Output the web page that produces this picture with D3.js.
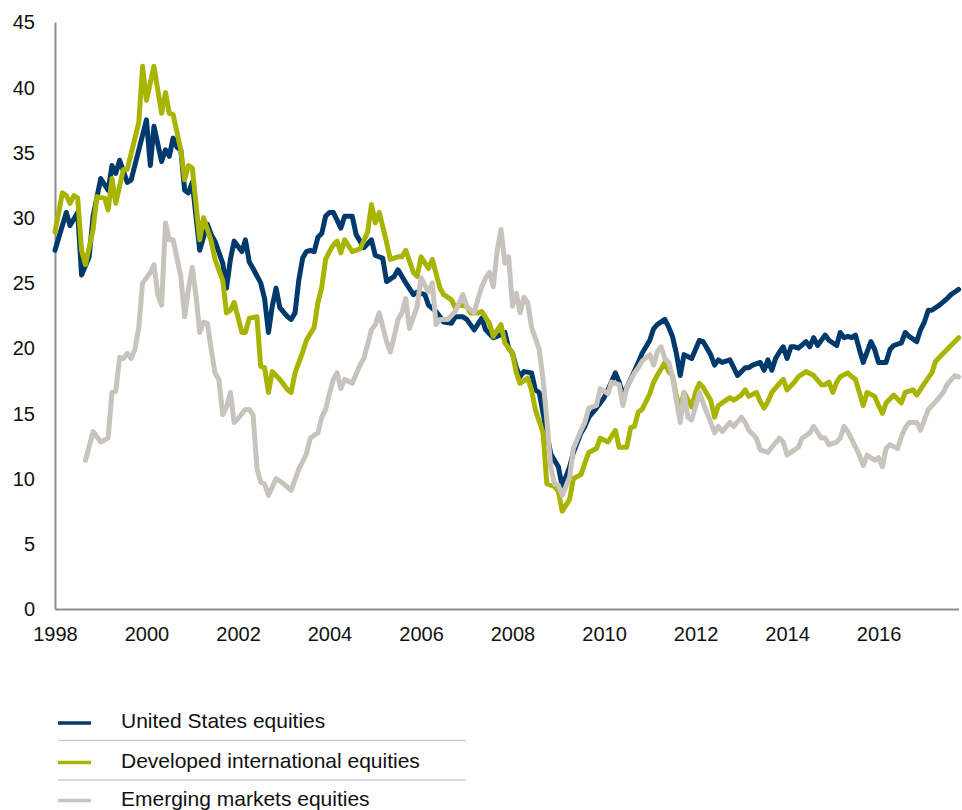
<!DOCTYPE html>
<html lang="en">
<head>
  <meta charset="UTF-8">
  <title>Equity valuations</title>
  <script src="https://d3js.org/d3.v7.min.js"></script>
  <style>
    body {
      margin: 0;
      background: #fff;
      font-family: Arial, "Liberation Sans", sans-serif;
    }

    .axis text {
      font-size: 20px;
      fill: #111;
      font-family: Arial, "Liberation Sans", sans-serif;
    }

    .axis .domain {
      stroke: #8c8c8c;
      stroke-width: 2;
    }

    .series {
      fill: none;
      stroke-width: 5;
      stroke-linejoin: round;
      stroke-linecap: round;
    }

    .legend text {
      font-size: 21px;
      fill: #111;
    }
  </style>
</head>
<body>
  <div id="chart"></div>

  <script>
    // tick labels
    const yTicks = [0, 5, 10, 15, 20, 25, 30, 35, 40, 45];
    const xTickYears = [1998, 2000, 2002, 2004, 2006, 2008, 2010, 2012, 2014, 2016];

    const seriesNames = ["United States equities", "Developed international equities", "Emerging markets equities"];

    // United States equities
    const usDates = [
      "1998-01","1998-04","1998-05","1998-07","1998-08","1998-10","1998-11","1999-01","1999-03","1999-04",
      "1999-05","1999-06","1999-08","1999-09","1999-11","2000-01","2000-02","2000-03","2000-05","2000-06",
      "2000-07","2000-08","2000-09","2000-10","2000-11","2000-12","2001-01","2001-03","2001-05","2001-06",
      "2001-07","2001-09","2001-10","2001-11","2001-12","2002-02","2002-03","2002-04","2002-05","2002-07",
      "2002-08","2002-09","2002-10","2002-11","2002-12","2003-02","2003-03","2003-04","2003-05","2003-06",
      "2003-07","2003-08","2003-09","2003-10","2003-11","2003-12","2004-01","2004-02","2004-04","2004-05",
      "2004-07","2004-08","2004-09","2004-10","2004-12","2005-01","2005-03","2005-04","2005-06","2005-07",
      "2005-09","2005-11","2005-12","2006-02","2006-03","2006-05","2006-07","2006-09","2006-10","2006-12",
      "2007-01","2007-03","2007-05","2007-06","2007-08","2007-09","2007-11","2007-12","2008-01","2008-02",
      "2008-03","2008-04","2008-06","2008-07","2008-08","2008-09","2008-11","2008-12","2009-01","2009-02",
      "2009-04","2009-05","2009-07","2009-08","2009-09","2009-11","2010-01","2010-02","2010-04","2010-05",
      "2010-06","2010-08","2010-10","2010-11","2011-01","2011-02","2011-03","2011-05","2011-06","2011-07",
      "2011-08","2011-09","2011-10","2011-12","2012-01","2012-02","2012-03","2012-05","2012-06","2012-07",
      "2012-08","2012-10","2012-11","2012-12","2013-02","2013-03","2013-04","2013-06","2013-07","2013-08",
      "2013-09","2013-10","2013-11","2013-12","2014-01","2014-02","2014-03","2014-04","2014-06","2014-07",
      "2014-08","2014-09","2014-11","2014-12","2015-02","2015-03","2015-04","2015-05","2015-06","2015-07",
      "2015-08","2015-09","2015-11","2015-12","2016-01","2016-03","2016-04","2016-05","2016-07","2016-08",
      "2016-09","2016-11","2016-12","2017-01","2017-02","2017-03","2017-05","2017-07","2017-08","2017-09",
      "2017-10"
    ];
    const usValues = [
      27.5, 30.4, 29.4, 30.4, 25.6, 27.0, 30.1, 33.0, 32.1, 34.0,
      33.4, 34.4, 32.7, 32.9, 35.2, 37.5, 34.0, 37.0, 34.3, 35.2,
      34.7, 36.1, 35.4, 35.2, 32.1, 31.9, 32.7, 27.5, 29.5, 28.7,
      28.2, 26.5, 24.6, 26.8, 28.2, 27.4, 28.3, 26.6, 26.1, 25.0,
      23.8, 21.2, 23.2, 24.6, 23.1, 22.4, 22.2, 22.7, 25.2, 26.9,
      27.4, 27.5, 27.4, 28.5, 28.8, 30.1, 30.4, 30.4, 29.2, 30.1,
      30.1, 28.7, 28.2, 27.7, 28.3, 27.1, 26.9, 25.1, 25.5, 26.0,
      25.0, 24.1, 24.3, 24.1, 23.3, 22.8, 22.0, 21.9, 22.4, 22.4,
      22.2, 21.4, 22.3, 21.4, 20.8, 20.9, 21.2, 20.0, 19.6, 18.5,
      17.8, 18.2, 18.1, 16.8, 16.6, 15.0, 11.9, 11.4, 10.9, 9.4,
      10.9, 12.0, 13.5, 14.0, 14.7, 15.4, 16.2, 16.8, 18.1, 17.4,
      16.4, 17.6, 18.9, 19.6, 20.6, 21.5, 21.8, 22.2, 21.6, 20.9,
      19.6, 17.9, 19.5, 19.2, 19.9, 20.6, 20.5, 19.5, 18.7, 19.1,
      18.9, 19.1, 18.5, 17.9, 18.5, 18.5, 18.7, 18.9, 18.3, 19.1,
      18.3, 19.2, 19.7, 20.1, 19.2, 20.1, 20.1, 20.0, 20.5, 20.1,
      20.8, 20.2, 21.0, 20.6, 20.2, 21.2, 20.8, 20.9, 20.8, 21.0,
      19.9, 18.9, 20.5, 19.9, 18.9, 18.9, 19.9, 20.2, 20.4, 21.2,
      20.9, 20.5, 21.4, 22.0, 22.9, 22.9, 23.3, 23.8, 24.1, 24.3,
      24.5
    ];

    // Developed international equities
    const devDates = [
      "1998-01","1998-03","1998-04","1998-05","1998-06","1998-07","1998-08","1998-09","1998-11","1998-12",
      "1999-02","1999-03","1999-04","1999-05","1999-07","1999-08","1999-11","1999-12","2000-01","2000-03",
      "2000-05","2000-06","2000-07","2000-08","2000-10","2000-11","2000-12","2001-01","2001-03","2001-04",
      "2001-06","2001-07","2001-09","2001-10","2001-11","2001-12","2002-02","2002-03","2002-04","2002-06",
      "2002-07","2002-08","2002-09","2002-10","2002-12","2003-02","2003-03","2003-04","2003-06","2003-07",
      "2003-09","2003-10","2003-11","2003-12","2004-01","2004-02","2004-03","2004-04","2004-05","2004-07",
      "2004-09","2004-11","2004-12","2005-01","2005-02","2005-04","2005-05","2005-07","2005-08","2005-09",
      "2005-11","2005-12","2006-01","2006-03","2006-04","2006-06","2006-07","2006-09","2006-10","2006-11",
      "2007-01","2007-02","2007-04","2007-05","2007-07","2007-08","2007-10","2007-11","2008-01","2008-02",
      "2008-03","2008-05","2008-06","2008-07","2008-09","2008-10","2008-12","2009-01","2009-02","2009-04",
      "2009-05","2009-07","2009-08","2009-09","2009-11","2009-12","2010-02","2010-04","2010-05","2010-07",
      "2010-08","2010-09","2010-10","2010-11","2011-01","2011-02","2011-03","2011-05","2011-06","2011-07",
      "2011-08","2011-09","2011-10","2011-12","2012-01","2012-02","2012-03","2012-05","2012-06","2012-07",
      "2012-08","2012-10","2012-11","2013-01","2013-02","2013-03","2013-05","2013-06","2013-07","2013-08",
      "2013-09","2013-11","2013-12","2014-01","2014-03","2014-04","2014-06","2014-08","2014-10","2014-11",
      "2014-12","2015-01","2015-02","2015-03","2015-05","2015-06","2015-07","2015-08","2015-09","2015-10",
      "2015-12","2016-01","2016-02","2016-03","2016-05","2016-07","2016-08","2016-10","2016-11","2017-01",
      "2017-03","2017-04","2017-06","2017-07","2017-08","2017-10"
    ];
    const devValues = [
      28.9, 31.9, 31.7, 31.1, 31.7, 31.5, 27.5, 26.4, 29.1, 31.6,
      31.5, 30.6, 33.0, 31.1, 33.7, 33.7, 37.3, 41.6, 39.0, 41.6,
      38.0, 39.6, 38.0, 37.9, 35.2, 32.9, 34.0, 33.8, 28.3, 30.0,
      28.2, 26.8, 25.2, 22.7, 22.9, 23.5, 21.2, 21.2, 22.3, 22.4,
      18.6, 18.5, 16.6, 18.2, 17.6, 16.8, 16.6, 18.1, 19.7, 20.6,
      21.6, 23.5, 24.7, 26.8, 27.4, 27.9, 28.2, 27.3, 28.3, 27.4,
      27.6, 28.9, 31.0, 29.6, 30.4, 28.1, 26.8, 27.0, 27.0, 27.5,
      25.8, 25.5, 27.0, 26.1, 26.8, 24.6, 24.1, 23.7, 23.1, 23.3,
      23.2, 22.7, 22.7, 22.8, 21.9, 20.9, 21.8, 20.4, 19.6, 18.1,
      17.3, 17.7, 16.8, 15.3, 13.5, 9.6, 9.4, 9.0, 7.5, 8.4,
      10.0, 10.3, 11.2, 12.0, 12.3, 13.1, 12.8, 13.7, 12.4, 12.4,
      13.9, 14.0, 15.1, 15.3, 16.5, 17.4, 17.9, 18.9, 18.2, 17.9,
      16.3, 15.4, 16.6, 15.5, 16.6, 17.3, 17.0, 16.0, 14.7, 15.6,
      15.8, 16.2, 16.0, 16.4, 16.8, 16.3, 16.6, 15.9, 15.4, 15.9,
      16.6, 17.3, 17.6, 16.8, 17.4, 17.8, 18.2, 17.9, 17.2, 17.2,
      17.4, 16.6, 17.4, 17.8, 18.1, 17.8, 17.6, 16.6, 15.6, 16.6,
      16.3, 15.6, 15.0, 15.8, 16.4, 15.8, 16.6, 16.8, 16.4, 17.3,
      18.1, 19.0, 19.6, 19.9, 20.2, 20.8
    ];

    // Emerging markets equities
    const emDates = [
      "1998-09","1998-11","1999-01","1999-03","1999-04","1999-05","1999-06","1999-07","1999-08","1999-09",
      "1999-10","1999-11","1999-12","2000-02","2000-03","2000-04","2000-05","2000-06","2000-07","2000-08",
      "2000-10","2000-11","2000-12","2001-01","2001-02","2001-03","2001-04","2001-05","2001-06","2001-07",
      "2001-08","2001-09","2001-10","2001-11","2001-12","2002-01","2002-03","2002-04","2002-05","2002-06",
      "2002-07","2002-08","2002-09","2002-11","2003-01","2003-03","2003-05","2003-07","2003-08","2003-10",
      "2003-11","2003-12","2004-01","2004-02","2004-03","2004-04","2004-05","2004-07","2004-09","2004-10",
      "2004-12","2005-01","2005-02","2005-04","2005-05","2005-06","2005-07","2005-08","2005-09","2005-10",
      "2005-12","2006-01","2006-03","2006-04","2006-05","2006-06","2006-08","2006-10","2006-12","2007-01",
      "2007-03","2007-04","2007-05","2007-06","2007-07","2007-08","2007-09","2007-10","2007-11","2007-12",
      "2008-01","2008-02","2008-03","2008-04","2008-05","2008-06","2008-08","2008-09","2008-10","2008-11",
      "2008-12","2009-01","2009-02","2009-04","2009-05","2009-07","2009-08","2009-09","2009-11","2009-12",
      "2010-02","2010-03","2010-05","2010-06","2010-07","2010-09","2010-10","2010-11","2011-01","2011-02",
      "2011-03","2011-04","2011-05","2011-06","2011-07","2011-08","2011-09","2011-10","2011-11","2011-12",
      "2012-01","2012-02","2012-03","2012-05","2012-06","2012-07","2012-08","2012-10","2012-11","2013-01",
      "2013-02","2013-03","2013-05","2013-06","2013-08","2013-09","2013-11","2013-12","2014-01","2014-03",
      "2014-04","2014-05","2014-07","2014-08","2014-10","2014-11","2014-12","2015-02","2015-03","2015-04",
      "2015-05","2015-06","2015-08","2015-09","2015-10","2015-12","2016-01","2016-02","2016-03","2016-04",
      "2016-06","2016-07","2016-08","2016-09","2016-11","2016-12","2017-01","2017-02","2017-04","2017-06",
      "2017-07","2017-09","2017-10"
    ];
    const emValues = [
      11.4, 13.6, 12.8, 13.1, 16.6, 16.7, 19.3, 19.2, 19.6, 19.2,
      19.9, 21.6, 25.0, 25.8, 26.4, 24.1, 23.3, 29.6, 28.3, 28.3,
      25.5, 22.4, 24.5, 26.2, 23.9, 21.2, 22.0, 21.9, 19.9, 18.1,
      17.6, 14.9, 15.5, 16.6, 14.3, 14.6, 15.3, 15.3, 14.9, 10.8,
      9.7, 9.6, 8.7, 10.0, 9.6, 9.1, 10.7, 11.9, 13.1, 13.5,
      14.7, 15.3, 16.5, 17.6, 18.1, 16.9, 17.6, 17.3, 18.7, 19.2,
      21.4, 21.8, 22.7, 20.5, 19.7, 20.9, 22.2, 22.7, 23.8, 21.5,
      23.2, 25.4, 24.3, 25.0, 21.8, 22.2, 22.2, 22.8, 24.1, 23.2,
      22.7, 23.8, 24.7, 25.4, 25.8, 24.7, 27.5, 29.1, 26.5, 27.0,
      23.2, 24.2, 22.7, 23.9, 23.5, 21.6, 19.9, 17.6, 14.5, 10.9,
      9.6, 9.5, 8.7, 10.1, 12.3, 13.7, 14.3, 15.4, 15.6, 16.9,
      16.5, 17.4, 17.2, 15.6, 17.0, 18.1, 18.5, 19.0, 19.5, 18.7,
      19.7, 20.1, 19.2, 18.9, 17.8, 16.0, 14.3, 16.6, 14.7, 14.5,
      15.5, 16.6, 15.8, 14.3, 13.5, 14.0, 13.6, 14.3, 14.0, 14.7,
      14.3, 13.7, 13.1, 12.2, 12.0, 12.4, 13.1, 12.8, 11.8, 12.2,
      12.4, 13.1, 13.5, 14.0, 13.1, 13.1, 12.6, 12.8, 13.1, 14.0,
      13.6, 13.0, 11.8, 11.0, 11.8, 11.4, 11.6, 10.9, 12.3, 12.6,
      12.3, 13.2, 13.9, 14.3, 14.3, 13.7, 14.5, 15.3, 15.9, 16.6,
      17.2, 17.9, 17.8
    ];

    const colors = ["#00396b", "#a8b400", "#c8c4bd"];

    const width = 962;
    const height = 810;
    const parseMonth = d3.timeParse("%Y-%m");

    const series = [
      { name: seriesNames[0], dates: usDates, values: usValues },
      { name: seriesNames[1], dates: devDates, values: devValues },
      { name: seriesNames[2], dates: emDates, values: emValues }
    ].map((s, i) => ({
      name: s.name,
      color: colors[i],
      points: s.dates.map((d, j) => ({ date: parseMonth(d), value: s.values[j] }))
    }));

    const x = d3.scaleTime()
      .domain([new Date(1998, 0, 1), new Date(2017, 9, 1)])
      .range([55, 958.6]);

    const y = d3.scaleLinear()
      .domain([0, 45])
      .range([609, 22]);

    const svg = d3.select("#chart").append("svg")
      .attr("width", width)
      .attr("height", height);

    // axes, no tick marks, just the grey spines
    svg.append("g")
      .attr("class", "axis")
      .attr("transform", "translate(55,0)")
      .call(d3.axisLeft(y).tickValues(yTicks).tickSize(0).tickPadding(20))
      .selectAll("text").attr("dy", "0.34em");

    svg.append("g")
      .attr("class", "axis")
      .attr("transform", "translate(0,609)")
      .call(d3.axisBottom(x)
        .tickValues(xTickYears.map(yr => new Date(yr, 0, 1)))
        .tickFormat(d3.timeFormat("%Y"))
        .tickSize(0)
        .tickPadding(18));

    const line = d3.line()
      .x(d => x(d.date))
      .y(d => y(d.value));

    svg.append("g")
      .selectAll("path")
      .data(series)
      .join("path")
      .attr("class", "series")
      .attr("stroke", d => d.color)
      .attr("d", d => line(d.points));

    // legend at the bottom with thin separators
    const legend = svg.append("g").attr("class", "legend");
    const rowY = [723, 762.5, 800.5];

    const rows = legend.selectAll("g")
      .data(series)
      .join("g")
      .attr("transform", (d, i) => `translate(0,${rowY[i]})`);

    rows.append("line")
      .attr("x1", 58).attr("x2", 91)
      .attr("stroke", d => d.color)
      .attr("stroke-width", 3.5);

    rows.append("text")
      .attr("x", 121)
      .attr("y", 5)
      .text(d => d.name);

    rows.filter((d, i) => i < series.length - 1)
      .append("line")
      .attr("x1", 58).attr("x2", 466)
      .attr("y1", 17.5).attr("y2", 17.5)
      .attr("stroke", "#d0cdc8")
      .attr("stroke-width", 1.5);
  </script>
</body>
</html>
